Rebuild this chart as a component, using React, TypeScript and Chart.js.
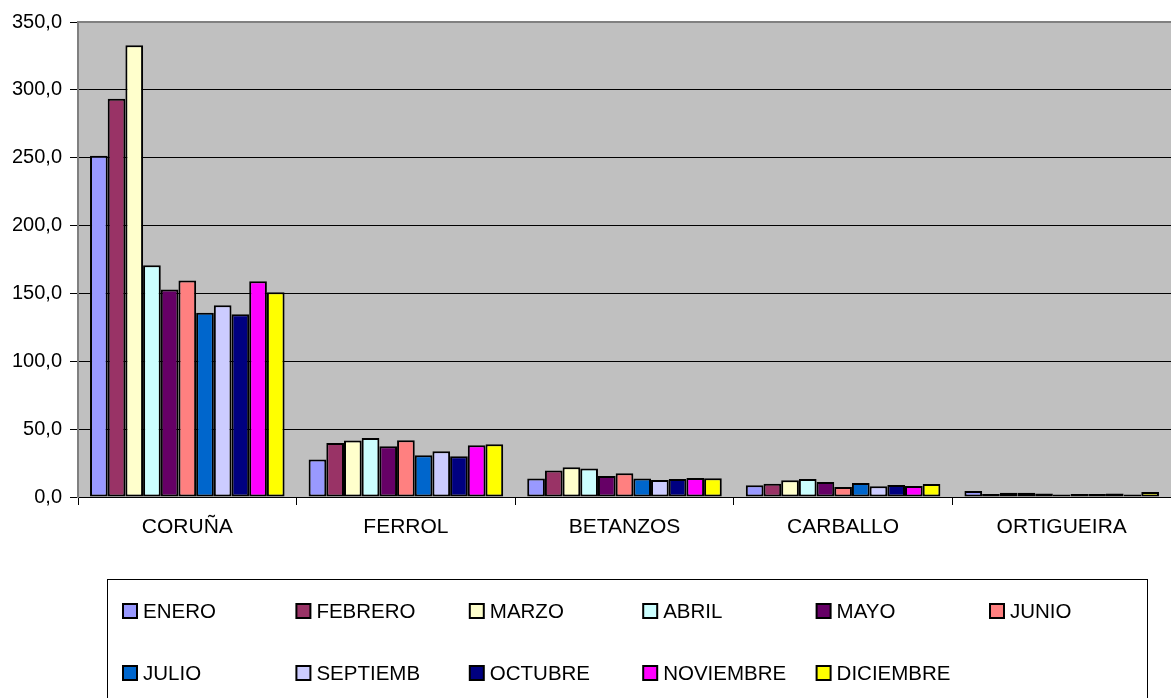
import React, { useEffect, useRef } from "react";
import { Chart, registerables } from "chart.js";

Chart.register(...registerables);

const categories = ["CORUÑA", "FERROL", "BETANZOS", "CARBALLO", "ORTIGUEIRA"];
const months = [
  "ENERO", "FEBRERO", "MARZO", "ABRIL", "MAYO", "JUNIO",
  "JULIO", "SEPTIEMB", "OCTUBRE", "NOVIEMBRE", "DICIEMBRE",
];
const monthColors = [
  "#9999FF", "#993366", "#FFFFCC", "#CCFFFF", "#660066", "#FF8080",
  "#0066CC", "#CCCCFF", "#000080", "#FF00FF", "#FFFF00",
];

// values per month, in category order
const enero = [251.5, 27.6, 13.6, 8.6, 4.5];
const febrero = [293.5, 39.8, 19.5, 9.8, 2.2];
const marzo = [332.8, 41.7, 22.0, 12.3, 3.2];
const abril = [170.8, 43.5, 21.0, 13.3, 3.2];
const mayo = [152.9, 37.4, 15.5, 11.0, 2.6];
const junio = [159.5, 41.8, 17.5, 7.4, 1.8];
const julio = [135.7, 30.8, 13.6, 10.3, 2.2];
const septiemb = [141.3, 33.7, 12.6, 8.0, 2.2];
const octubre = [134.6, 30.0, 13.3, 8.9, 2.5];
const noviembre = [159.0, 38.2, 14.0, 8.1, 1.8];
const diciembre = [150.9, 38.9, 13.8, 9.6, 3.6];

const seriesValues = [
  enero, febrero, marzo, abril, mayo, junio,
  julio, septiemb, octubre, noviembre, diciembre,
];

const yTicks = [0, 50, 100, 150, 200, 250, 300, 350];

const FONT = "'Liberation Sans', Arial, sans-serif";

const plotBgPlugin = {
  id: "plotBg",
  beforeDraw(chart: any) {
    const { ctx, chartArea } = chart;
    ctx.save();
    ctx.fillStyle = "#C0C0C0";
    ctx.fillRect(chartArea.left, chartArea.top, chartArea.right - chartArea.left, chartArea.bottom - chartArea.top);
    ctx.restore();
  },
  afterDraw(chart: any) {
    const { ctx, chartArea } = chart;
    ctx.save();
    ctx.strokeStyle = "#808080";
    ctx.lineWidth = 2;
    ctx.beginPath();
    ctx.moveTo(chartArea.left, chartArea.bottom);
    ctx.lineTo(chartArea.left, chartArea.top);
    ctx.lineTo(chartArea.right, chartArea.top);
    ctx.stroke();
    ctx.restore();
  },
};

const legendPlugin = {
  id: "boxLegend",
  afterDraw(chart: any) {
    const { ctx } = chart;
    ctx.save();
    ctx.strokeStyle = "#000000";
    ctx.lineWidth = 1;
    ctx.strokeRect(107.5, 579.5, 1040, 200);
    ctx.font = `20.5px ${FONT}`;
    ctx.textBaseline = "middle";
    ctx.textAlign = "left";
    chart.data.datasets.forEach((ds: any, i: number) => {
      const col = i % 6;
      const row = Math.floor(i / 6);
      const x = 123 + col * 173.4;
      const y = 611 + row * 62;
      ctx.fillStyle = ds.backgroundColor;
      ctx.fillRect(x, y - 7, 14, 14);
      ctx.strokeStyle = "#000000";
      ctx.lineWidth = 2;
      ctx.strokeRect(x, y - 7, 14, 14);
      ctx.fillStyle = "#000000";
      ctx.fillText(ds.label, x + 20, y + 1);
    });
    ctx.restore();
  },
};

export default function App() {
  const canvasRef = useRef<HTMLCanvasElement | null>(null);

  useEffect(() => {
    if (!canvasRef.current) return;
    const chart = new Chart(canvasRef.current, {
      type: "bar",
      data: {
        labels: categories,
        datasets: months.map((m, i) => ({
          label: m,
          data: seriesValues[i],
          backgroundColor: monthColors[i],
          borderColor: "#000000",
          borderWidth: 2,
          borderSkipped: false,
          categoryPercentage: 0.89,
          barPercentage: 1.0,
        })),
      },
      options: {
        animation: false,
        responsive: true,
        maintainAspectRatio: false,
        layout: { padding: { top: 22, right: 0, bottom: 141, left: 0 } },
        plugins: {
          legend: { display: false },
          tooltip: { enabled: false },
        },
        scales: {
          x: {
            afterFit(scale: any) {
              scale.height = 60;
            },
            grid: {
              display: true,
              offset: true,
              drawOnChartArea: false,
              drawTicks: true,
              tickLength: 8,
              color: "#000000",
            },
            border: { display: true, color: "#000000", width: 1 },
            ticks: {
              color: "#000000",
              font: { family: FONT, size: 21 },
              padding: 10,
              maxRotation: 0,
            },
          },
          y: {
            min: 0,
            max: 350,
            afterFit(scale: any) {
              scale.width = 78;
            },
            afterBuildTicks(scale: any) {
              scale.ticks = yTicks.map((v) => ({ value: v }));
            },
            grid: {
              color: "#000000",
              lineWidth: 1,
              drawTicks: true,
              tickLength: 8,
              tickColor: "#000000",
            },
            border: { display: true, color: "#808080", width: 2 },
            ticks: {
              color: "#000000",
              font: { family: FONT, size: 20 },
              padding: 8,
              callback: (v: any) => Number(v).toFixed(1).replace(".", ","),
            },
          },
        },
      },
      plugins: [plotBgPlugin, legendPlugin],
    });
    return () => chart.destroy();
  }, []);

  return (
    <div style={{ position: "absolute", left: 0, top: 0, width: 1171, height: 698, background: "#FFFFFF" }}>
      <canvas ref={canvasRef} />
    </div>
  );
}
